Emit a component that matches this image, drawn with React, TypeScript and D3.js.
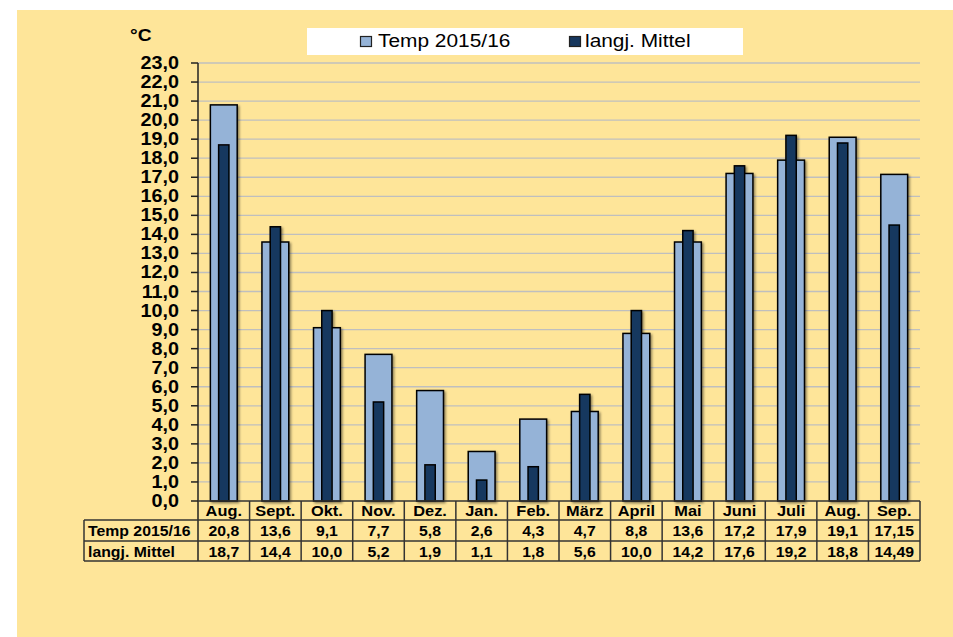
import * as d3 from 'd3';
import React from 'react';

const months = ['Aug.', 'Sept.', 'Okt.', 'Nov.', 'Dez.', 'Jan.', 'Feb.', 'März', 'April', 'Mai', 'Juni', 'Juli', 'Aug.', 'Sep.'];
const temp201516 = [20.8, 13.6, 9.1, 7.7, 5.8, 2.6, 4.3, 4.7, 8.8, 13.6, 17.2, 17.9, 19.1, 17.15];
const langjMittel = [18.7, 14.4, 10.0, 5.2, 1.9, 1.1, 1.8, 5.6, 10.0, 14.2, 17.6, 19.2, 18.8, 14.49];
const seriesNames = ['Temp 2015/16', 'langj. Mittel'];
const yTicks = d3.range(0, 24, 1);

const W = 953;
const H = 637;
const plot = { left: 198, right: 920, top: 63, bottom: 501 };
const rowH = [501, 520, 541, 561];
const tableLeft = 84;

const LIGHT = '#95B3D7';
const DARK = '#17375E';
const BG = '#FEE599';
const FONT = 'Arial, "Liberation Sans", sans-serif';
const SX = 1.13; // the source is slightly stretched horizontally

const fmtVal = (v: number) =>
  (Math.round(v * 10) === v * 10 ? v.toFixed(1) : v.toFixed(2)).replace('.', ',');

// text helper with horizontal stretch
const T = (props: {
  x: number;
  y: number;
  size: number;
  anchor?: 'start' | 'middle' | 'end';
  bold?: boolean;
  children: React.ReactNode;
}) => (
  <g transform={`translate(${props.x},${props.y}) scale(${SX},1)`}>
    <text
      x={0}
      y={0}
      fontFamily={FONT}
      fontSize={props.size}
      fontWeight={props.bold ? 'bold' : 'normal'}
      textAnchor={props.anchor || 'start'}
      fill="#000"
    >
      {props.children}
    </text>
  </g>
);

const App: React.FC = () => {
  const idx = months.map((_, i) => i);
  const x = d3.scaleBand<number>().domain(idx).range([plot.left, plot.right]).padding(0);
  const y = d3.scaleLinear().domain([0, 23]).range([plot.bottom, plot.top]);
  const bw = x.bandwidth();
  const outerW = bw * 0.52;
  const innerW = bw * 0.2;

  return (
    <svg
      width={W}
      height={H}
      style={{ position: 'absolute', left: 0, top: 0, display: 'block' }}
    >
      <defs>
        <filter id="shadow" x="-20%" y="-5%" width="150%" height="115%">
          <feDropShadow dx="1.5" dy="1.5" stdDeviation="0.8" floodColor="#000" floodOpacity="0.45" />
        </filter>
      </defs>
      <rect x={0} y={0} width={W} height={H} fill="#fff" />
      <rect x={17} y={10} width={W - 17} height={H - 10} fill={BG} />

      {/* gridlines */}
      {yTicks
        .filter((t) => t > 0)
        .map((t) => (
          <line key={t} x1={plot.left} x2={plot.right} y1={y(t)} y2={y(t)} stroke="#BFBFBF" strokeWidth={1.3} />
        ))}

      {/* bars */}
      {idx.map((i) => {
        const cx = (x(i) as number) + bw / 2;
        return (
          <g key={i} filter="url(#shadow)">
            <rect
              x={cx - outerW / 2}
              y={y(temp201516[i])}
              width={outerW}
              height={y(0) - y(temp201516[i])}
              fill={LIGHT}
              stroke="#000"
              strokeWidth={1.5}
            />
            <rect
              x={cx - innerW / 2}
              y={y(langjMittel[i])}
              width={innerW}
              height={y(0) - y(langjMittel[i])}
              fill={DARK}
              stroke="#000"
              strokeWidth={1.5}
            />
          </g>
        );
      })}

      {/* y axis */}
      <line x1={plot.left} x2={plot.left} y1={plot.top} y2={rowH[3]} stroke="#222" strokeWidth={1.5} />
      {yTicks.map((t) => (
        <g key={t}>
          <line x1={plot.left - 7} x2={plot.left} y1={y(t)} y2={y(t)} stroke="#222" strokeWidth={1.5} />
          <T x={179} y={y(t) + 6} size={17.5} anchor="end" bold>
            {fmtVal(t)}
          </T>
        </g>
      ))}
      <T x={130} y={41} size={17} bold>
        °C
      </T>

      {/* data table */}
      <g stroke="#333" strokeWidth={1.5}>
        <line x1={plot.left} x2={plot.right} y1={rowH[0]} y2={rowH[0]} />
        <line x1={tableLeft} x2={plot.right} y1={rowH[1]} y2={rowH[1]} />
        <line x1={tableLeft} x2={plot.right} y1={rowH[2]} y2={rowH[2]} />
        <line x1={tableLeft} x2={plot.right} y1={rowH[3]} y2={rowH[3]} />
        <line x1={tableLeft} x2={tableLeft} y1={rowH[1]} y2={rowH[3]} />
        {idx.map((i) => (
          <line key={i} x1={(x(i) as number) + bw} x2={(x(i) as number) + bw} y1={rowH[0]} y2={rowH[3]} />
        ))}
      </g>
      <T x={88} y={rowH[1] + 15.5} size={14} bold>
        {seriesNames[0]}
      </T>
      <T x={88} y={rowH[2] + 15.5} size={14} bold>
        {seriesNames[1]}
      </T>
      {idx.map((i) => {
        const cx = (x(i) as number) + bw / 2;
        return (
          <g key={i}>
            <T x={cx} y={rowH[0] + 15} size={14.5} anchor="middle" bold>
              {months[i]}
            </T>
            <T x={cx} y={rowH[1] + 15.5} size={14} anchor="middle" bold>
              {fmtVal(temp201516[i])}
            </T>
            <T x={cx} y={rowH[2] + 15.5} size={14} anchor="middle" bold>
              {fmtVal(langjMittel[i])}
            </T>
          </g>
        );
      })}

      {/* legend */}
      <rect x={307} y={28} width={436} height={27} fill="#fff" />
      <rect x={360.5} y={36.5} width={11} height={10} fill={LIGHT} stroke="#222" strokeWidth={1.2} />
      <T x={378} y={47} size={18.5}>
        {seriesNames[0]}
      </T>
      <rect x={569.5} y={36.5} width={11} height={10} fill={DARK} stroke="#222" strokeWidth={1.2} />
      <T x={585} y={47} size={18.5}>
        {seriesNames[1]}
      </T>
    </svg>
  );
};

export default App;
